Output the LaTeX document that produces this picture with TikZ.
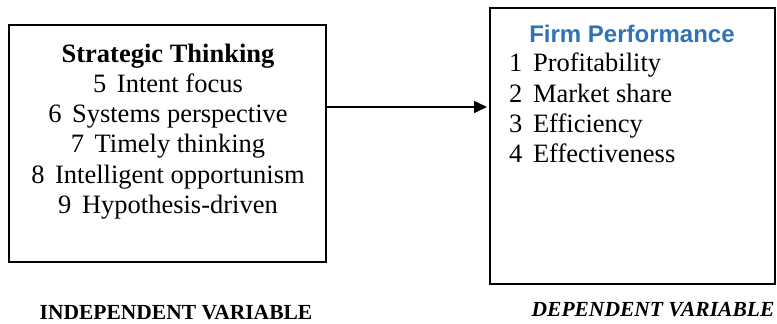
\documentclass[tikz,border=0pt]{standalone}
\usepackage{fontspec}
\setmainfont{Liberation Serif}
\newfontfamily\headsans{Liberation Sans}
\usetikzlibrary{arrows.meta}
\definecolor{headblue}{RGB}{46,116,181}
\begin{document}
\begin{tikzpicture}[x=1pt,y=-1pt,
  boxstyle/.style={draw=black,line width=1.6pt},
  item/.style={font=\fontsize{26.5}{30}\selectfont,inner sep=0pt,anchor=base},
  conn/.style={line width=1.6pt,-{Triangle[length=13pt,width=12pt]}},
  vlabel/.style={font=\fontsize{21.5}{24}\selectfont\bfseries,inner sep=0pt,anchor=base}]
\useasboundingbox (0,0) rectangle (777,324);
\draw[boxstyle] (9,25) rectangle (326,262);
\draw[boxstyle] (490,8) rectangle (775,284);
\node[item,font=\fontsize{26.5}{30}\selectfont\bfseries] (st) at (168,62) {Strategic Thinking};
\node[item] (s5) at (168,92) {5\hspace{0.4em}Intent focus};
\node[item] (s6) at (168,122) {6\hspace{0.4em}Systems perspective};
\node[item] (s7) at (168,152) {7\hspace{0.4em}Timely thinking};
\node[item] (s8) at (168,183) {8\hspace{0.4em}Intelligent opportunism};
\node[item] (s9) at (168,213) {9\hspace{0.4em}Hypothesis-driven};
\node[inner sep=0pt,anchor=base,text=headblue,font=\headsans\fontsize{24}{26}\selectfont\bfseries] (fp) at (632,42) {Firm Performance};
\node[item,anchor=base west] (f1) at (509,71) {1\hspace{0.4em}Profitability};
\node[item,anchor=base west] (f2) at (509,102) {2\hspace{0.4em}Market share};
\node[item,anchor=base west] (f3) at (509,132) {3\hspace{0.4em}Efficiency};
\node[item,anchor=base west] (f4) at (509,162) {4\hspace{0.4em}Effectiveness};
\coordinate (a1) at (326,107);
\coordinate (a2) at (487,107);
\draw[conn] (a1) -- (a2);
\node[vlabel] (iv) at (176,319) {INDEPENDENT VARIABLE};
\node[vlabel,font=\fontsize{21.5}{24}\selectfont\bfseries\itshape] (dv) at (653,316) {DEPENDENT VARIABLE};
\end{tikzpicture}
\end{document}
